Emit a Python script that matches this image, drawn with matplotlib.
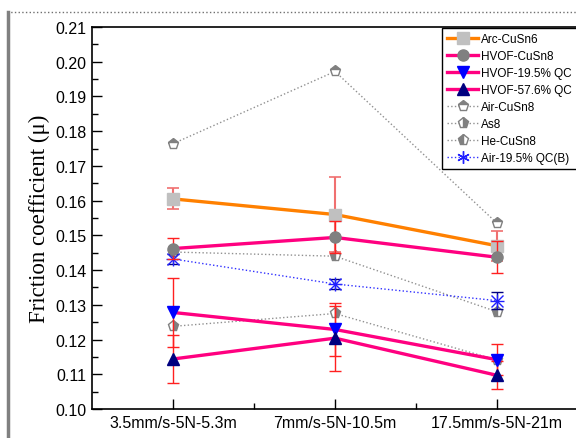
import numpy as np
import matplotlib
matplotlib.use('Agg')
import matplotlib.pyplot as plt
from matplotlib.lines import Line2D

plt.rcParams['font.family'] = ['Liberation Sans', 'DejaVu Sans']

conditions = ['3.5mm/s-5N-5.3m', '7mm/s-5N-10.5m', '17.5mm/s-5N-21m']

arc_cusn6 = [0.1605, 0.1560, 0.1470]
arc_cusn6_err = [0.0030, 0.0107, 0.0044]
hvof_cusn8 = [0.1462, 0.1494, 0.1437]
hvof_cusn8_err = [0.0030, 0.0046, 0.0046]
hvof_195qc = [0.1278, 0.1229, 0.1142]
hvof_195qc_err = [0.0100, 0.0076, 0.0044]
hvof_576qc = [0.1144, 0.1204, 0.1097]
hvof_576qc_err = [0.0070, 0.0094, 0.0040]
air_cusn8 = [0.1764, 0.1972, 0.1535]
as8 = [0.1238, 0.1275, 0.1141]
he_cusn8 = [0.1452, 0.1440, 0.1280]
air_195qc = [0.1432, 0.1360, 0.1312]
air_195qc_err = [0.0014, 0.0014, 0.0024]

x = np.arange(1, len(conditions) + 1)

fig = plt.figure(figsize=(5.76, 4.39), dpi=100)
ax = fig.add_axes([92/576, 1 - 410/439, 486/576, 382/439])

pink = '#ff0080'
gray = '#808080'

# dotted series
ax.plot(x, air_cusn8, ls=':', lw=1, color='#909090', marker='p', ms=8,
        mfc=gray, mfcalt='white', fillstyle='top', mec=gray, zorder=2)
ax.plot(x, as8, ls=':', lw=1, color='#909090', marker='p', ms=8,
        mfc=gray, mfcalt='white', fillstyle='right', mec=gray, zorder=2)
ax.plot(x, he_cusn8, ls=':', lw=1, color='#909090', marker='p', ms=8,
        mfc=gray, mfcalt='white', fillstyle='left', mec=gray, zorder=2)
ax.errorbar(x, air_195qc, yerr=air_195qc_err, ls=':', lw=1, color='#3030ff',
            marker='x', ms=8, mew=1, mec='#2020ff', ecolor='#000080',
            elinewidth=1, capsize=4, zorder=3)
ax.plot(x, air_195qc, ls='none', marker='+', ms=10, mec='#2020ff', zorder=3)

# solid series with error bars
ax.errorbar(x, arc_cusn6, yerr=arc_cusn6_err, color='#ff8000', lw=2.4,
            marker='s', ms=8, mfc='#c0c0c0', mec='#c0c0c0',
            ecolor='#f07070', elinewidth=1.5, capsize=4, capthick=1.2, zorder=4)
ax.errorbar(x, hvof_cusn8, yerr=hvof_cusn8_err, color=pink, lw=2.4,
            marker='o', ms=8, mfc=gray, mec=gray,
            ecolor='#ff2020', elinewidth=1, capsize=4, zorder=5)
ax.errorbar(x, hvof_195qc, yerr=hvof_195qc_err, color=pink, lw=2.4,
            marker='v', ms=9, mfc='#0000ff', mec='#0000ff',
            ecolor='#ff2020', elinewidth=1, capsize=4, zorder=5)
ax.errorbar(x, hvof_576qc, yerr=hvof_576qc_err, color=pink, lw=2.4,
            marker='^', ms=9, mfc='#000080', mec='#000080',
            ecolor='#ff2020', elinewidth=1, capsize=4, zorder=5)

ax.set_xlim(0.5, 3.5)
ax.set_ylim(0.10, 0.21)
ax.set_xticks(x)
ax.set_xticklabels(conditions, fontsize=11.5)
ax.set_xticks([1.5, 2.5], minor=True)
ax.set_yticks(np.arange(0.10, 0.2101, 0.01))
ax.set_yticklabels(['%.2f' % v for v in np.arange(0.10, 0.2101, 0.01)], fontsize=11.5)
ax.set_yticks(np.arange(0.105, 0.21, 0.01), minor=True)
ax.tick_params(which='major', direction='in', length=7, width=1, pad=4)
ax.tick_params(which='minor', direction='in', length=4, width=1)
ax.tick_params(top=False, right=False)
for s in ax.spines.values():
    s.set_linewidth(1.2)
ax.spines['right'].set_visible(False)
ax.set_ylabel('Friction coefficient (\u03bc)', fontsize=16.5,
              family=['Liberation Serif', 'DejaVu Serif'], labelpad=4)

handles = [
    Line2D([], [], color='#ff8000', lw=2.4, marker='s', ms=8, mfc='#c0c0c0', mec='#c0c0c0'),
    Line2D([], [], color=pink, lw=2.4, marker='o', ms=8, mfc=gray, mec=gray),
    Line2D([], [], color=pink, lw=2.4, marker='v', ms=9, mfc='#0000ff', mec='#0000ff'),
    Line2D([], [], color=pink, lw=2.4, marker='^', ms=9, mfc='#000080', mec='#000080'),
    Line2D([], [], color='#909090', ls=':', lw=1, marker='p', ms=8, mfc=gray,
           mfcalt='white', fillstyle='top', mec=gray),
    Line2D([], [], color='#909090', ls=':', lw=1, marker='p', ms=8, mfc=gray,
           mfcalt='white', fillstyle='right', mec=gray),
    Line2D([], [], color='#909090', ls=':', lw=1, marker='p', ms=8, mfc=gray,
           mfcalt='white', fillstyle='left', mec=gray),
    Line2D([], [], color='#3030ff', ls=':', lw=1, marker=(6, 2, 0), ms=9, mec='#2020ff'),
]
labels = ['Arc-CuSn6', 'HVOF-CuSn8', 'HVOF-19.5% QC', 'HVOF-57.6% QC',
          'Air-CuSn8', 'As8', 'He-CuSn8', 'Air-19.5% QC(B)']
leg = ax.legend(handles, labels, loc='upper left',
                bbox_to_anchor=(442/576, 1 - 29/439), bbox_transform=fig.transFigure,
                fontsize=8.5, fancybox=False, edgecolor='black', framealpha=1,
                handlelength=2.6, handletextpad=0.25, labelspacing=0.42,
                borderpad=0.45, borderaxespad=0)
leg.get_frame().set_linewidth(1)

# page frame remnants: dotted top rule and gray left bar
fig.add_artist(Line2D([7/576, 1], [1 - 13/439, 1 - 13/439], transform=fig.transFigure,
                      color='#707070', ls=':', lw=1))
fig.add_artist(Line2D([8/576, 8/576], [0, 1 - 13/439], transform=fig.transFigure,
                      color='#808080', lw=2.5))

fig.savefig('out.png', dpi=100)
